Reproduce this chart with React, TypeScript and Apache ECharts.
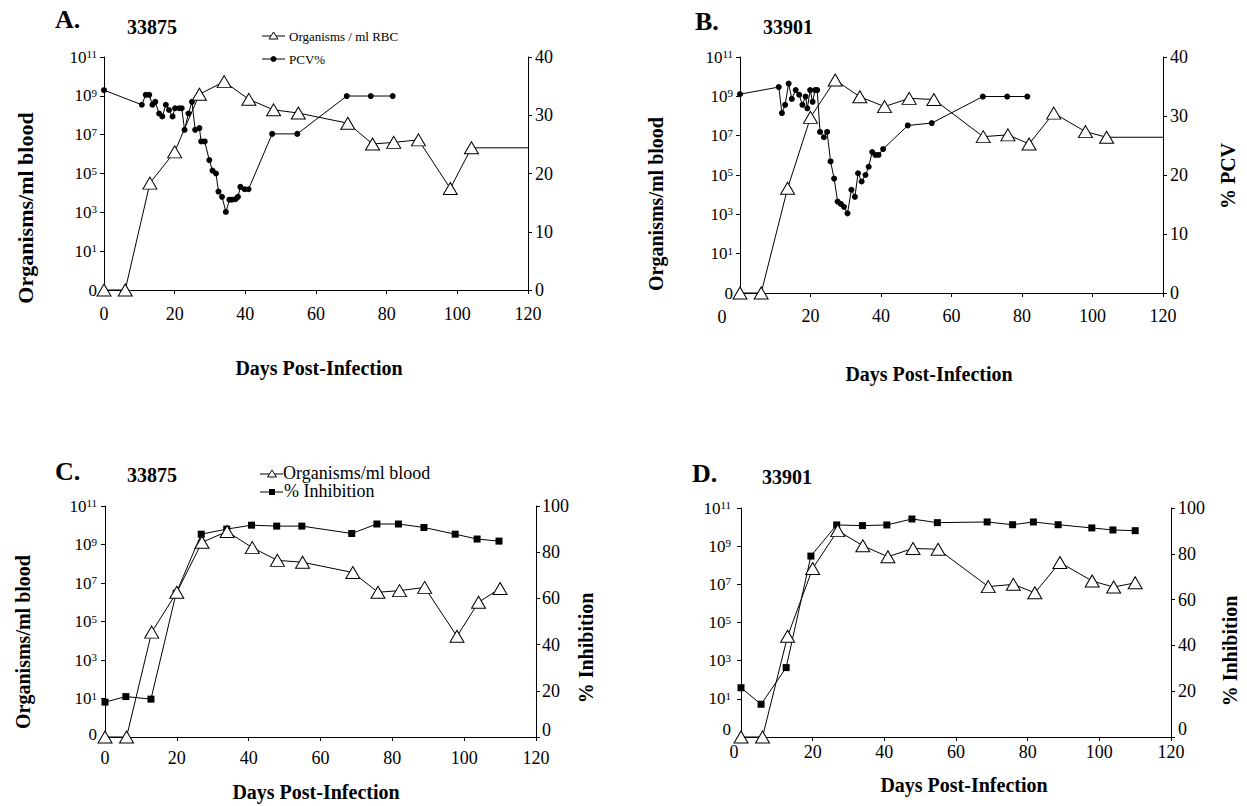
import React, { useEffect, useRef } from 'react';
import * as echarts from 'echarts';

const FONT = '"Liberation Serif", "Times New Roman", Times, serif';

// ---------- Panel A: 33875 (Organisms / ml RBC, PCV%) ----------
const orgDaysA = [0, 6, 13, 20, 27, 34, 41, 48, 55, 69, 76, 82, 89, 98, 104, 120];
const orgA = [0, 0, 3.2e4, 1.3e6, 1.2e9, 5.4e9, 6.6e8, 1.9e8, 1.3e8, 3.9e7, 3.3e6, 4.0e6, 5.4e6, 1.7e4, 2.1e6, 2.1e6];
const pcvDaysA = [0, 10.7, 11.8, 12.8, 13.7, 14.5, 15.6, 16.5, 17.5, 18.4, 19.4, 20.1, 21.3, 22, 22.8, 23.9, 24.9, 25.8, 27, 27.5, 28.5, 29.8, 30.7, 31.7, 32.4, 33.4, 34.5, 35.5, 36.2, 37.2, 37.9, 38.6, 39.8, 40.9, 47.6, 54.7, 68.7, 75.5, 81.7];
const pcvA = [34.3, 31.8, 33.5, 33.5, 31.8, 32.3, 30.3, 29.8, 31.8, 30.9, 29.8, 31.2, 31.2, 31.2, 27.5, 30.3, 32.3, 27.5, 27.8, 25.5, 25.5, 22.3, 20.5, 20.0, 16.9, 16.0, 13.4, 15.5, 15.5, 15.6, 16.0, 17.7, 17.3, 17.3, 26.8, 26.8, 33.3, 33.3, 33.3];

// ---------- Panel B: 33901 (Organisms / ml RBC, % PCV) ----------
const orgDaysB = [0, 6, 13.5, 20, 27, 34, 41, 48, 55, 69, 76, 82, 89, 98, 104, 120];
const orgB = [0, 0, 2.1e4, 8.5e7, 6.8e9, 9.5e8, 3.0e8, 7.9e8, 6.9e8, 8.9e6, 1.1e7, 3.8e6, 1.4e8, 1.6e7, 8.3e6, 8.3e6];
const pcvDaysB = [0, 11, 11.9, 12.8, 13.8, 14.7, 15.8, 16.8, 17.7, 18.6, 19.1, 19.9, 20.6, 21.3, 21.9, 22.7, 23.8, 24.7, 25.7, 26.7, 27.7, 28.6, 29.5, 30.5, 31.6, 32.6, 33.5, 34.5, 35.6, 36.5, 37.5, 38.4, 39.3, 40.6, 47.6, 54.4, 68.9, 75.8, 81.5];
const pcvB = [33.7, 34.9, 30.5, 31.9, 35.5, 32.9, 34.4, 33.6, 31.9, 33.3, 31.3, 34.4, 32.4, 34.4, 34.4, 27.3, 26.4, 27.3, 22.3, 19.4, 15.5, 15.1, 14.6, 13.5, 17.5, 16.3, 20.3, 18.9, 20, 21.4, 23.9, 23.4, 23.4, 24.4, 28.4, 28.8, 33.3, 33.3, 33.3];

// ---------- Panel C: 33875 (Organisms/ml blood, % Inhibition) ----------
const orgDaysC = [0, 6, 13, 20, 27, 34, 41, 48, 55, 69, 76, 82, 89, 98, 104, 110];
const orgC = [0, 0, 2.8e4, 3.3e6, 1.3e9, 4.7e9, 6.9e8, 1.5e8, 1.2e8, 3.5e7, 3.3e6, 4.0e6, 5.9e6, 1.7e4, 1.0e6, 5.2e6];
const inhDaysC = [0, 5.8, 12.8, 19.8, 26.8, 33.9, 40.8, 47.8, 54.8, 68.7, 75.7, 81.7, 88.8, 97.5, 103.6, 109.7];
const inhC = [15.1, 17.5, 16.4, 62.2, 87.8, 90, 91.7, 91.3, 91.3, 88.1, 92.2, 92.2, 90.7, 87.8, 85.7, 84.8];

// ---------- Panel D: 33901 (Organisms/ml blood, % Inhibition) ----------
const orgDaysD = [0, 6, 13, 20, 27, 34, 41, 48, 55, 69, 76, 82, 89, 98, 104, 110];
const orgD = [0, 0, 1.9e4, 6.8e7, 6.5e9, 1.05e9, 2.8e8, 7.6e8, 6.9e8, 7.6e6, 1.0e7, 3.6e6, 1.4e8, 1.5e7, 7.2e6, 1.2e7];
const inhDaysD = [0, 5.6, 12.6, 19.5, 26.7, 33.9, 40.7, 47.7, 54.8, 68.7, 75.8, 81.6, 88.5, 97.9, 103.8, 110];
const inhD = [21.5, 14.3, 30.3, 79, 92.6, 92.3, 92.6, 95.2, 93.6, 93.9, 92.7, 93.9, 92.7, 91.3, 90.4, 90.1];

// axis settings
const dayTicks = { min: 0, max: 120, interval: 20 };
const pcvTicks = { min: 0, max: 40, interval: 10 };
const inhTicks = { min: 0, max: 100, interval: 20 };
// left axis: log10(organisms)+1, "0" organisms shown at the bottom
const logTicks = { min: 0, max: 12, interval: 2 };

const toLog = (v: number) => (v > 0 ? Math.log10(v) + 1 : 0);

const BLACK = '#000';

function axisLineStyle() {
  return { show: true, onZero: false, lineStyle: { color: BLACK, width: 1 } };
}
function axisTickStyle(len = 4) {
  return { show: true, length: len, inside: false, lineStyle: { color: BLACK, width: 1 } };
}

type Panel = {
  grid: { left: number; top: number; width: number; height: number };
  xMargin: number;
  leftMargin: number;
  rightMargin: number;
  right: { min: number; max: number; interval: number };
  orgDays: number[];
  org: number[];
  rDays: number[];
  rVals: number[];
  rSymbol: string;
  rSize: number;
  hideZeroX?: boolean;
  liftZeroLeft?: number;
  liftZeroRight?: number;
};

const panels: Panel[] = [
  {
    grid: { left: 104, top: 57, width: 424, height: 233 },
    xMargin: 15, leftMargin: 7, rightMargin: 7, right: pcvTicks,
    orgDays: orgDaysA, org: orgA, rDays: pcvDaysA, rVals: pcvA, rSymbol: 'circle', rSize: 6,
  },
  {
    grid: { left: 740, top: 57, width: 423, height: 236 },
    xMargin: 14, leftMargin: 7, rightMargin: 7, right: pcvTicks,
    orgDays: orgDaysB, org: orgB, rDays: pcvDaysB, rVals: pcvB, rSymbol: 'circle', rSize: 6, hideZeroX: true,
  },
  {
    grid: { left: 105, top: 506, width: 431, height: 231 },
    xMargin: 12, leftMargin: 8, rightMargin: 6, right: inhTicks,
    orgDays: orgDaysC, org: orgC, rDays: inhDaysC, rVals: inhC, rSymbol: 'rect', rSize: 7,
    liftZeroLeft: 6, liftZeroRight: 14,
  },
  {
    grid: { left: 741, top: 508, width: 430, height: 229 },
    xMargin: 6, leftMargin: 10, rightMargin: 7, right: inhTicks,
    orgDays: orgDaysD, org: orgD, rDays: inhDaysD, rVals: inhD, rSymbol: 'rect', rSize: 7, hideZeroX: true,
    liftZeroLeft: 16, liftZeroRight: 16,
  },
];

function txt(x: number, y: number, text: string, size: number, bold: boolean, align = 'left', rotation = 0) {
  return {
    type: 'text',
    x,
    y,
    rotation,
    silent: true,
    style: {
      text,
      fontFamily: FONT,
      fontSize: size,
      fontWeight: bold ? 'bold' : 'normal',
      fill: BLACK,
      align,
      verticalAlign: 'middle',
    },
  };
}

function legendLine(x1: number, x2: number, y: number) {
  return { type: 'line', silent: true, shape: { x1, y1: y, x2, y2: y }, style: { stroke: BLACK, lineWidth: 1 } };
}
function legendTri(cx: number, cy: number, w: number, h: number) {
  return {
    type: 'polygon',
    silent: true,
    shape: { points: [[cx, cy - h / 2], [cx + w / 2, cy + h / 2], [cx - w / 2, cy + h / 2]] },
    style: { fill: '#fff', stroke: BLACK, lineWidth: 1 },
  };
}

function buildOption() {
  const grid: any[] = [];
  const xAxis: any[] = [];
  const yAxis: any[] = [];
  const series: any[] = [];

  panels.forEach((p, i) => {
    grid.push({ ...p.grid, containLabel: false });
    xAxis.push({
      type: 'value',
      gridIndex: i,
      ...dayTicks,
      axisLine: axisLineStyle(),
      axisTick: axisTickStyle(4),
      splitLine: { show: false },
      axisLabel: {
        color: BLACK,
        fontFamily: FONT,
        fontSize: 18,
        margin: p.xMargin,
        formatter: (v: number) => (p.hideZeroX && v === 0 ? '' : String(v)),
      },
    });
    yAxis.push({
      type: 'value',
      gridIndex: i,
      position: 'left',
      ...logTicks,
      axisLine: axisLineStyle(),
      axisTick: axisTickStyle(4),
      splitLine: { show: false },
      axisLabel: {
        color: BLACK,
        fontFamily: FONT,
        fontSize: 17,
        margin: p.leftMargin,
        formatter: (v: number) =>
          v === 0 ? (p.liftZeroLeft ? '{z|0}' : '0') : `10{s|${Math.round(v - 1)}}`,
        rich: {
          s: { fontSize: 11, fontFamily: FONT, color: BLACK, verticalAlign: 'top', lineHeight: 11 },
          z: { fontSize: 17, fontFamily: FONT, color: BLACK, padding: [0, 0, p.liftZeroLeft || 0, 0] },
        },
      },
    });
    yAxis.push({
      type: 'value',
      gridIndex: i,
      position: 'right',
      ...p.right,
      axisLine: axisLineStyle(),
      axisTick: axisTickStyle(4),
      splitLine: { show: false },
      axisLabel: {
        color: BLACK,
        fontFamily: FONT,
        fontSize: 18,
        margin: p.rightMargin,
        formatter: (v: number) => (v === 0 && p.liftZeroRight ? '{z|0}' : String(v)),
        rich: {
          z: { fontSize: 18, fontFamily: FONT, color: BLACK, padding: [0, 0, p.liftZeroRight || 0, 0] },
        },
      },
    });

    series.push({
      type: 'line',
      xAxisIndex: i,
      yAxisIndex: 2 * i + 1,
      data: p.rDays.map((d, k) => [d, p.rVals[k]]),
      symbol: p.rSymbol,
      symbolSize: p.rSize,
      itemStyle: { color: BLACK },
      lineStyle: { color: BLACK, width: 1 },
      clip: false,
      z: 2,
    });
    series.push({
      type: 'line',
      xAxisIndex: i,
      yAxisIndex: 2 * i,
      data: p.orgDays.map((d, k) =>
        d >= 120 ? { value: [d, toLog(p.org[k])], symbol: 'none' } : [d, toLog(p.org[k])]
      ),
      symbol: 'triangle',
      symbolSize: [14, 12],
      itemStyle: { color: '#fff', borderColor: BLACK, borderWidth: 1 },
      lineStyle: { color: BLACK, width: 1 },
      clip: false,
      z: 3,
    });
  });

  const graphic: any[] = [
    // panel titles
    txt(55, 19, 'A.', 26, true),
    txt(127, 27, '33875', 20, true),
    txt(695, 21, 'B.', 26, true),
    txt(763, 27, '33901', 20, true),
    txt(55, 471, 'C.', 26, true),
    txt(127, 475, '33875', 20, true),
    txt(692, 473, 'D.', 26, true),
    txt(762, 477, '33901', 20, true),
    // legend A
    legendLine(262, 285, 36),
    legendTri(273.5, 35.5, 9, 7),
    txt(289, 36, 'Organisms / ml RBC', 13, false),
    legendLine(262, 285, 59),
    { type: 'circle', silent: true, shape: { cx: 273.5, cy: 59, r: 3 }, style: { fill: BLACK } },
    txt(289, 59, 'PCV%', 13, false),
    // legend C
    legendLine(260, 283, 474),
    legendTri(272, 473.5, 9, 7),
    txt(283, 473, 'Organisms/ml blood', 18, false),
    legendLine(260, 283, 492),
    { type: 'rect', silent: true, shape: { x: 269, y: 489, width: 6, height: 6 }, style: { fill: BLACK } },
    txt(284, 491, '% Inhibition', 18, false),
    // axis titles
    txt(319, 368, 'Days Post-Infection', 20, true, 'center'),
    txt(929, 374, 'Days Post-Infection', 20, true, 'center'),
    txt(316, 792, 'Days Post-Infection', 20, true, 'center'),
    txt(964, 785, 'Days Post-Infection', 20, true, 'center'),
    txt(25, 208, 'Organisms/ml blood', 22, true, 'center', Math.PI / 2),
    txt(656, 204, 'Organisms/ml blood', 20, true, 'center', Math.PI / 2),
    txt(23, 642, 'Organisms/ml blood', 20, true, 'center', Math.PI / 2),
    txt(1228, 176, '% PCV', 20, true, 'center', Math.PI / 2),
    txt(586, 648, '% Inhibition', 20, true, 'center', Math.PI / 2),
    txt(1230, 651, '% Inhibition', 20, true, 'center', Math.PI / 2),
    // shifted "0" day labels of panels B and D
    txt(722, 317, '0', 18, false, 'center'),
    txt(734, 752, '0', 18, false, 'center'),
  ];

  return {
    animation: false,
    backgroundColor: '#fff',
    textStyle: { fontFamily: FONT, color: BLACK },
    grid,
    xAxis,
    yAxis,
    series,
    graphic,
  };
}

export default function App() {
  const ref = useRef<HTMLDivElement>(null);
  useEffect(() => {
    if (!ref.current) return;
    const chart = echarts.init(ref.current, undefined, { renderer: 'svg' });
    chart.setOption(buildOption() as any);
    return () => chart.dispose();
  }, []);
  return (
    <div
      ref={ref}
      style={{ position: 'absolute', left: 0, top: 0, width: 1247, height: 806, background: '#fff' }}
    />
  );
}
